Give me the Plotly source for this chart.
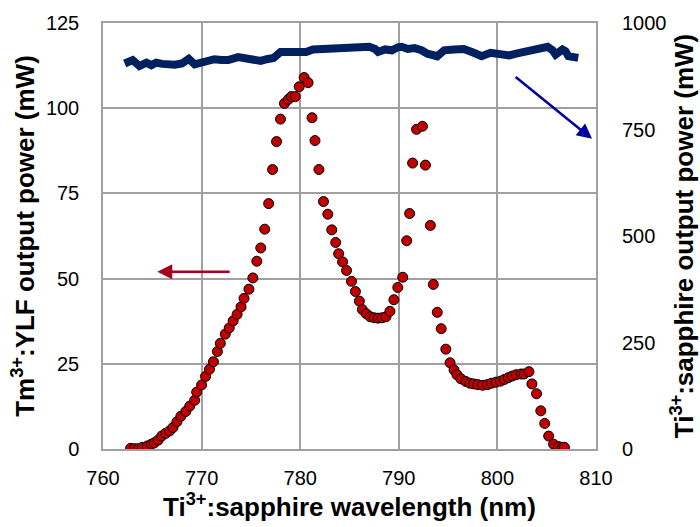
import plotly.graph_objects as go

# Tm:YLF output power (left axis, mW) vs Ti:sapphire wavelength (nm)
wl_tm = [762.8, 763.2, 763.6, 764.0, 764.5, 764.9, 765.2, 765.6, 765.95, 766.35,
         766.75, 767.1, 767.5, 767.9, 768.4, 768.8, 769.3, 769.5, 770.0, 770.4,
         770.8, 771.2, 771.6, 771.9, 772.4, 772.8, 773.2, 773.6, 774.0, 774.3,
         774.8, 775.2, 775.6, 776.0, 776.4, 776.8, 777.2, 777.6, 778.0, 778.4,
         778.8, 779.1, 779.5, 779.9, 780.4, 780.8, 781.2, 781.5, 781.9, 782.36,
         782.8, 783.2, 783.6, 783.9, 784.3, 784.7, 785.2, 785.6, 786.0, 786.3,
         786.7, 787.1, 787.5, 787.9, 788.3, 788.7, 789.1, 789.5, 789.9, 790.4,
         790.8, 791.1, 791.4, 791.8, 792.4, 792.7, 793.2, 793.5, 793.9, 794.3,
         794.77, 795.2, 795.6, 795.9, 796.3, 796.8, 797.2, 797.6, 798.0, 798.5,
         799.0, 799.4, 799.85, 800.3, 800.7, 801.1, 801.5, 801.9, 802.4, 802.7,
         803.2, 803.5, 803.97, 804.4, 804.8, 805.2, 805.7, 806.2, 806.6, 806.8]
tm_power = [0.2, 0.1, 0.1, 0.5, 0.9, 1.4, 1.8, 2.6, 3.8, 4.6,
            5.3, 6.3, 8.0, 9.6, 11.0, 12.6, 14.3, 16.7, 18.8, 21.3,
            23.4, 25.6, 28.6, 31.0, 33.7, 35.5, 37.6, 39.5, 41.7, 44.2,
            46.9, 50.2, 55.1, 59.0, 64.5, 72.0, 82.0, 90.2, 96.8, 101.4,
            102.6, 103.4, 103.4, 106.3, 109.0, 107.5, 97.2, 90.5, 82.0, 72.6,
            68.9, 64.3, 60.6, 57.3, 54.9, 52.4, 49.2, 46.2, 43.4, 40.9,
            39.7, 38.8, 38.5, 38.4, 38.5, 38.8, 40.4, 43.8, 47.4, 50.4,
            61.1, 69.1, 83.9, 93.8, 94.7, 83.3, 65.6, 48.3, 40.1, 35.3,
            29.3, 25.3, 23.2, 21.8, 20.6, 19.8, 19.3, 19.1, 18.9, 18.7,
            18.9, 19.3, 19.6, 19.9, 20.4, 20.9, 21.4, 21.8, 22.0, 22.0,
            22.7, 19.1, 16.2, 11.2, 7.5, 3.8, 1.4, 0.7, 0.5, 0.5]

# Ti:sapphire output power (right axis, mW)
wl_ti = [762.2, 763.0, 763.7, 764.4, 764.9, 765.4, 766.0, 766.5, 767.3, 768.0,
         768.7, 769.3, 770.0, 770.7, 771.3, 772.0, 772.7, 773.7, 774.3, 775.3,
         776.0, 776.6, 777.3, 778.0, 778.6, 779.3, 780.0, 780.6, 781.3, 782.0,
         782.6, 783.3, 784.0, 784.6, 785.3, 786.0, 787.0, 787.6, 787.9, 788.6,
         789.3, 789.9, 790.3, 790.9, 791.6, 792.3, 792.9, 793.9, 794.6, 795.6,
         796.6, 797.6, 798.4, 799.3, 799.9, 800.6, 801.2, 801.9, 802.9, 803.6,
         804.2, 805.1, 805.6, 805.9, 806.6, 806.9, 807.2, 807.7, 808.2]
ti_power = [905, 913, 899, 907, 901, 907, 904, 902, 902, 905,
            916, 903, 908, 910, 915, 913, 913, 920, 918, 916,
            911, 915, 918, 932, 932, 928, 932, 932, 938, 939,
            942, 941, 944, 944, 943, 944, 944, 939, 932, 938,
            936, 943, 944, 939, 941, 936, 928, 922, 936, 938,
            939, 930, 922, 930, 928, 922, 924, 928, 934, 938,
            939, 944, 936, 926, 938, 934, 922, 922, 918]

x_ticks = [760, 770, 780, 790, 800, 810]
y_left_ticks = [0, 25, 50, 75, 100, 125]
y_right_ticks = [0, 250, 500, 750, 1000]

FONT = "Liberation Sans, Arial, sans-serif"
GRID = "#a0a0a0"

fig = go.Figure()
fig.add_trace(go.Scatter(
    x=wl_ti, y=ti_power, yaxis="y2", mode="lines",
    line=dict(color="#002060", width=8, shape="linear"),
    showlegend=False, hoverinfo="skip"))
fig.add_trace(go.Scatter(
    x=wl_tm, y=tm_power, mode="markers",
    marker=dict(size=10, color="#C00000", line=dict(color="black", width=1)),
    showlegend=False))

fig.update_layout(
    width=700, height=527,
    margin=dict(l=103, r=95, t=20, b=78),
    paper_bgcolor="white", plot_bgcolor="white",
    font=dict(family=FONT, size=20, color="black"),
    xaxis=dict(range=[760, 810], tickvals=x_ticks, showgrid=True, gridcolor=GRID,
               gridwidth=1.5, showline=True, linecolor=GRID, linewidth=1.5, mirror=True,
               ticks="", ticklabelstandoff=10, zeroline=False,
               title=dict(text="<b>Ti<sup>3+</sup>:sapphire wavelength (nm)</b>",
                          font=dict(size=26, family=FONT), standoff=3)),
    yaxis=dict(range=[0, 125], tickvals=y_left_ticks, showgrid=True, gridcolor=GRID,
               gridwidth=1.5, showline=True, linecolor=GRID, linewidth=1.5, mirror=True,
               ticks="", ticklabelstandoff=18, zeroline=False,
               title=dict(text="<b>Tm<sup>3+</sup>:YLF output power (mW)</b>",
                          font=dict(size=26, family=FONT), standoff=4)),
    yaxis2=dict(range=[0, 1000], tickvals=y_right_ticks, overlaying="y", side="right",
                showgrid=False, showline=False, ticks="", ticklabelstandoff=25,
                zeroline=False,
                title=dict(text="<b>Ti<sup>3+</sup>:sapphire output power (mW)</b>",
                           font=dict(size=26, family=FONT), standoff=3)),
)

# arrows pointing to the respective axes
fig.add_annotation(x=765.5, y=52, xref="x", yref="y", ax=773.0, ay=52,
                   axref="x", ayref="y", showarrow=True, arrowhead=2,
                   arrowsize=1.2, arrowwidth=2.5, arrowcolor="#A50021", text="")
fig.add_annotation(x=809.6, y=728, xref="x", yref="y2", ax=801.7, ay=876,
                   axref="x", ayref="y2", showarrow=True, arrowhead=2,
                   arrowsize=1.2, arrowwidth=2.5, arrowcolor="#0000A0", text="")

fig.write_html("out.html")
